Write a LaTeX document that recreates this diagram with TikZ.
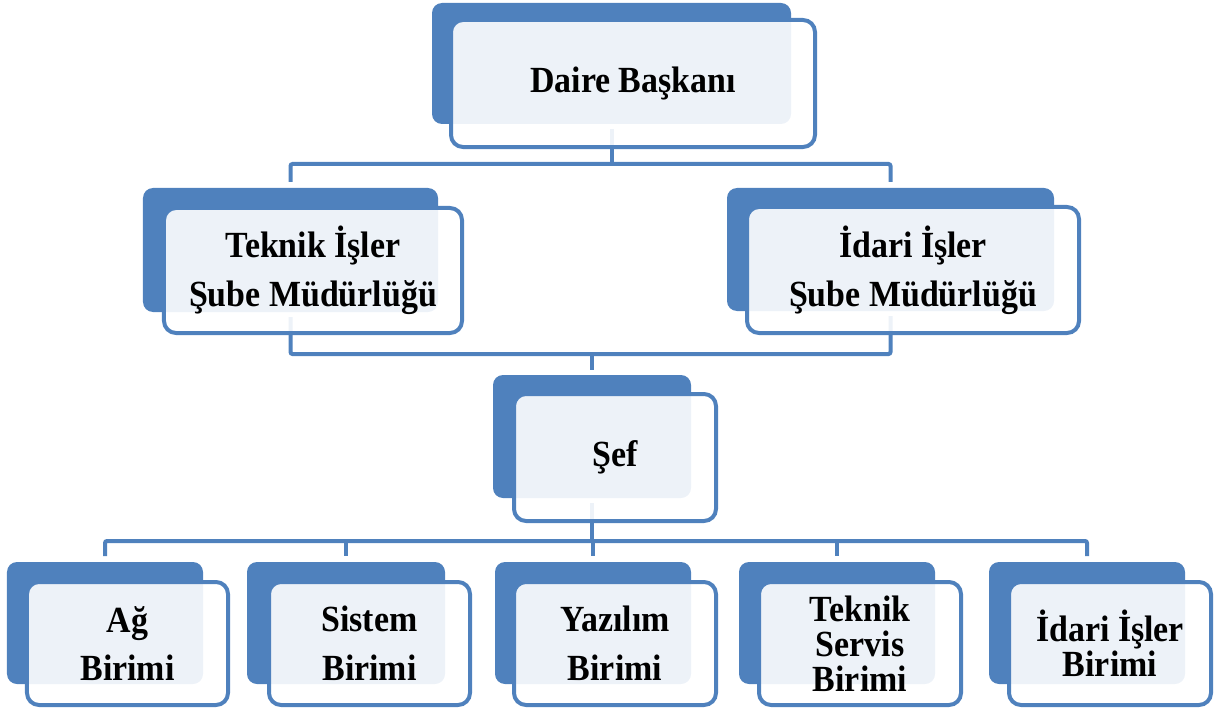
\documentclass[tikz,border=0pt]{standalone}
\usepackage{fontspec}
\setmainfont{Liberation Serif}
\newfontfamily\lbl[FakeStretch=0.92]{Liberation Serif}
\definecolor{dblue}{HTML}{4F81BD}
\begin{document}
\begin{tikzpicture}[x=1bp,y=-1bp,
  back/.style={fill=dblue, draw=none, rounded corners=10bp, inner sep=0pt, outer sep=0pt},
  front/.style={draw=dblue, line width=4bp, fill=white, fill opacity=0.9, text opacity=1,
    rounded corners=12bp, inner sep=0pt, outer sep=0pt, align=center,
    font=\lbl\bfseries\fontsize{37}{49}\selectfont},
  tight/.style={font=\lbl\bfseries\fontsize{37}{35}\selectfont},
  conn/.style={draw=dblue, line width=4bp, rounded corners=2bp}]
\useasboundingbox (0,0) rectangle (1217,711);
% back boxes
\node[back, minimum width=359bp, minimum height=121bp] (dDaire) at (611.5,63.5) {};
\node[back, minimum width=295bp, minimum height=124bp] (dTek) at (290.5,250) {};
\node[back, minimum width=327bp, minimum height=123bp] (dIdr) at (890.5,249.5) {};
\node[back, minimum width=198bp, minimum height=123bp] (dSef) at (592,436.5) {};
\node[back, minimum width=196bp, minimum height=122bp] (dAg) at (105,623) {};
\node[back, minimum width=198bp, minimum height=122bp] (dSis) at (346,623) {};
\node[back, minimum width=196bp, minimum height=122bp] (dYaz) at (593,623) {};
\node[back, minimum width=196bp, minimum height=122bp] (dTsv) at (837,623) {};
\node[back, minimum width=196bp, minimum height=122bp] (dIdb) at (1087,623) {};
% connectors
\coordinate (j1) at (611.5,164);
\coordinate (j2) at (592,354);
\coordinate (j3) at (592,541);
\draw[conn, shorten <=5bp] (dDaire.south) -- (j1);
\draw[conn, shorten <=6bp, shorten >=6bp] (dTek.north) |- (j1) -| (dIdr.north);
\draw[conn, shorten <=5bp, shorten >=5bp] (dTek.south) |- (j2) -| (dIdr.south);
\draw[conn, shorten >=5bp] (j2) -- (dSef.north);
\draw[conn, shorten <=5bp] (dSef.south) -- (j3);
\draw[conn, shorten <=6bp, shorten >=6bp] (dAg.north) |- (j3) -| (dIdb.north);
\draw[conn, shorten >=6bp] (dSis.north |- j3) -- (dSis.north);
\draw[conn, shorten >=6bp] (dYaz.north |- j3) -- (dYaz.north);
\draw[conn, shorten >=6bp] (dTsv.north |- j3) -- (dTsv.north);
% front boxes
\node[front, minimum width=364bp, minimum height=127bp] (fDaire) at (633,83.5) {Daire Başkanı};
\node[front, minimum width=298bp, minimum height=125bp] (fTek) at (313,270.5) {Teknik İşler\\Şube Müdürlüğü};
\node[front, minimum width=332bp, minimum height=126bp] (fIdr) at (913,270) {İdari İşler\\Şube Müdürlüğü};
\node[front, minimum width=202bp, minimum height=127bp] (fSef) at (615,457.5) {Şef};
\node[front, minimum width=201bp, minimum height=123bp] (fAg) at (127.5,643.5) {Ağ\\Birimi};
\node[front, minimum width=201bp, minimum height=123bp] (fSis) at (369.5,643.5) {Sistem\\Birimi};
\node[front, minimum width=202bp, minimum height=123bp] (fYaz) at (615,643.5) {Yazılım\\Birimi};
\node[front, tight, minimum width=202bp, minimum height=123bp] (fTsv) at (860,643.5) {Teknik\\Servis\\Birimi};
\node[front, tight, minimum width=202bp, minimum height=123bp] (fIdb) at (1110,643.5) {İdari İşler\\Birimi};
\end{tikzpicture}
\end{document}
